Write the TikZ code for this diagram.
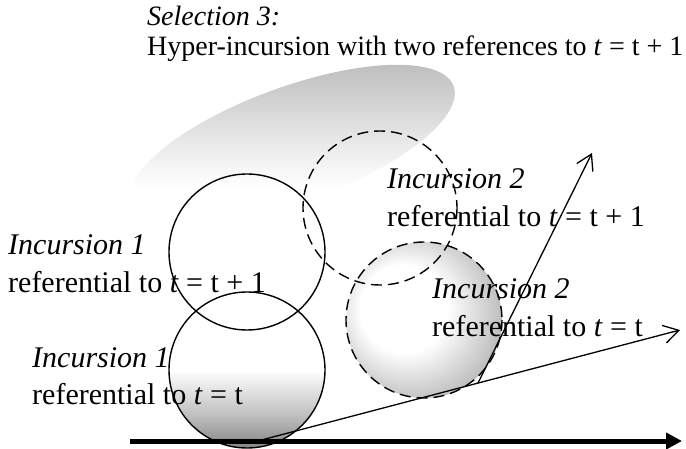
\documentclass[tikz,border=0pt]{standalone}
\usepackage{fontspec}
\setmainfont{Liberation Serif}
\usetikzlibrary{arrows.meta}
\pgfdeclareverticalshading{lowfade}{100bp}{color(0bp)=(black!50); color(25bp)=(black!48); color(36bp)=(black!24); color(50bp)=(white); color(100bp)=(white)}
\pgfdeclareradialshading{ballfade}{\pgfpoint{-9bp}{5bp}}{color(0bp)=(white); color(14bp)=(white); color(40bp)=(black!45); color(50bp)=(black!45)}
\pgfdeclareverticalshading{ellfade}{100bp}{color(0bp)=(white); color(25bp)=(white); color(38bp)=(white); color(50bp)=(black!8); color(63bp)=(black!18); color(75bp)=(black!27); color(100bp)=(black!27)}
\begin{document}
\begin{tikzpicture}[x=1pt,y=-1pt,
  lbl/.style={inner sep=0pt, anchor=base west, font=\fontsize{30}{33}\selectfont},
  ilbl/.style={lbl, font=\fontsize{30}{33}\selectfont\itshape},
  tlbl/.style={inner sep=0pt, anchor=base west, font=\fontsize{28}{31}\selectfont},
  itlbl/.style={tlbl, font=\fontsize{28}{31}\selectfont\itshape},
  ring/.style={line width=1.4pt},
  dring/.style={line width=1.4pt, dash pattern=on 11pt off 6pt},
  thinarrow/.style={line width=1.3pt, -{Straight Barb[length=15pt,width=18pt]}},
  axisarrow/.style={line width=5pt, -{Triangle[length=16pt,width=16pt]}}]
\useasboundingbox (0,0) rectangle (686,449);
% shaded ellipse
\begin{scope}[shift={(292,145)}, rotate=20]
  \shade[shading=ellfade] (0,0) ellipse [x radius=172, y radius=58];
\end{scope}
% circle fills
\coordinate (c1a) at (247,252);
\coordinate (c1b) at (247,370);
\coordinate (c2a) at (380,208);
\coordinate (c2b) at (424,320);
\shade[shading=lowfade] (c1b) circle [radius=78];
\shade[shading=ballfade] (c2b) circle [radius=78];
% outlines
\draw[ring] (c1a) circle [radius=78];
\draw[ring] (c1b) circle [radius=78];
\draw[dring] (c2a) circle [radius=77];
\draw[dring] (c2b) circle [radius=78];
% texts
\node[itlbl] (sel) at (147,26) {Selection 3:};
\node[tlbl] (hyp) at (147,56) {Hyper-incursion with two references to \textit{t} = t + 1};
\node[ilbl] (in1a) at (8,255) {Incursion 1};
\node[lbl] (r1a) at (8,293) {referential to \textit{t} = t + 1};
\node[ilbl] (in1b) at (32,367) {Incursion 1};
\node[lbl] (r1b) at (32,404) {referential to \textit{t} = t};
\node[ilbl] (in2a) at (387,189) {Incursion 2};
\node[lbl] (r2a) at (387,227) {referential to \textit{t} = t + 1};
\node[ilbl] (in2b) at (432,299) {Incursion 2};
\node[lbl] (r2b) at (432,337) {referential to \textit{t} = t};
% arrows
\coordinate (ax0) at (130,441);
\coordinate (ax1) at (682,441);
\coordinate (o) at (250,443);
\coordinate (p) at (680,330);
\coordinate (q) at (478,383);
\coordinate (r) at (592,153);
\draw[axisarrow] (ax0) -- (ax1);
\draw[thinarrow] (o) -- (p);
\draw[thinarrow] (q) -- (r);
\end{tikzpicture}
\end{document}
